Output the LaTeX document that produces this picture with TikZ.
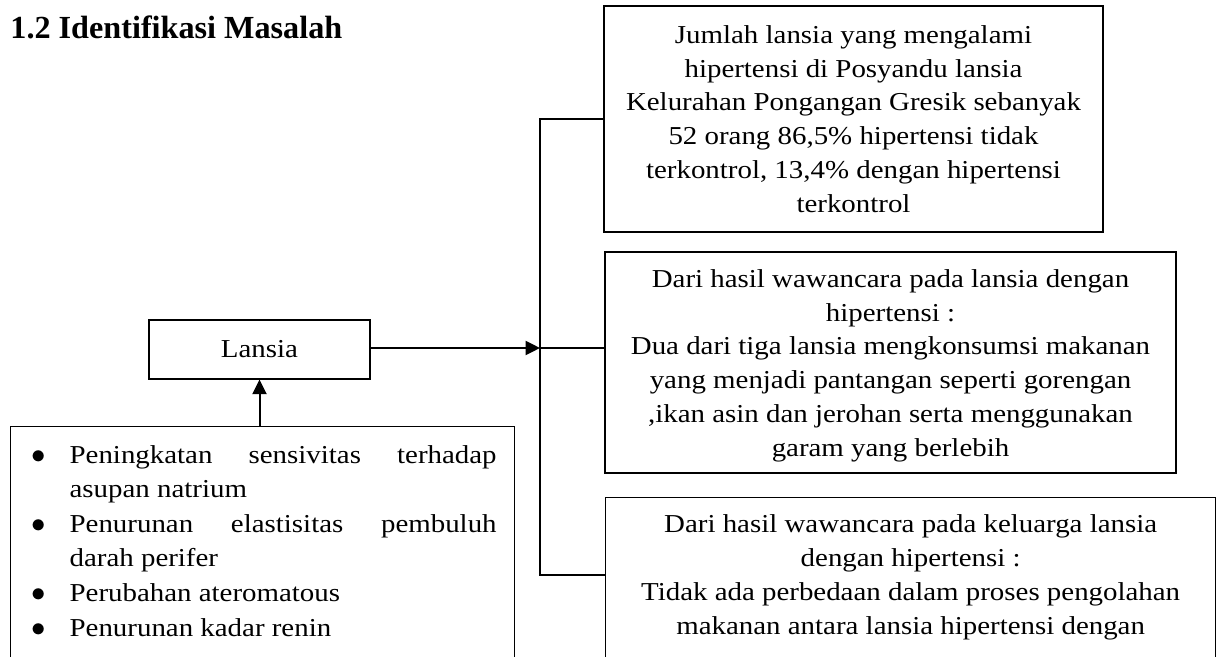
\documentclass[tikz,border=0pt]{standalone}
\usepackage{fontspec}
\setmainfont{Liberation Serif}
\newfontfamily\isi{Liberation Serif}[FakeStretch=1.12]
\usetikzlibrary{arrows.meta,positioning}
\newcommand{\butir}{\noindent\hangindent=20.5pt\hangafter=1\makebox[20.5pt][l]{\hspace{1.2pt}{\fontsize{15.5}{15.5}\selectfont$\bullet$}}}

\begin{document}
\begin{tikzpicture}[x=0.5pt, y=-0.5pt,
    kotak/.style={draw, line width=0.65pt, align=center, inner sep=0pt, font={\isi\fontsize{12.9}{16.9}\selectfont}},
    garis/.style={line width=0.65pt},
    panah/.style={line width=1pt, -{Triangle[length=7.2pt, width=7pt]}}]
    \useasboundingbox (0,0) rectangle (1230,657);
    \clip (0,0) rectangle (1230,657);

    % Judul
    \node[anchor=base west, inner sep=0pt, font={\fontsize{16.1}{19}\selectfont\bfseries}] (judul) at (10,38.5) {1.2 Identifikasi Masalah};

    % Lansia dan faktor penyebab
    \node[kotak, minimum width=110.5pt, minimum height=29.5pt] (lansia) at (259.5,349.5) {Lansia};
    \node[kotak, anchor=north west, align=justify, text width=234pt, inner xsep=9pt, inner ysep=9.7pt,
        font={\isi\fontsize{12.9}{16.9}\selectfont\hyphenpenalty=10000 \parskip=0.6pt}] (faktor) at (10,426) {\butir Peningkatan sensivitas terhadap\linebreak asupan natrium\par
        \butir Penurunan elastisitas pembuluh\linebreak darah perifer\par
        \butir Perubahan ateromatous\par
        \butir Penurunan kadar renin\rule[-30pt]{0pt}{30pt}};

    % Kotak masalah
    \node[kotak, minimum width=249.5pt, minimum height=113pt] (jumlah) at (853.5,119) {Jumlah lansia yang mengalami\\hipertensi di Posyandu lansia\\Kelurahan Pongangan Gresik sebanyak\\52 orang 86,5\% hipertensi tidak\\terkontrol, 13,4\% dengan hipertensi\\terkontrol};
    \node[kotak, minimum width=285.5pt, minimum height=110.5pt] (wawancara) at (890.5,362.5) {\rule{0pt}{12pt}Dari hasil wawancara pada lansia dengan\\hipertensi :\\Dua dari tiga lansia mengkonsumsi makanan\\yang menjadi pantangan seperti gorengan\\,ikan asin dan jerohan serta menggunakan\\garam yang berlebih};
    \node[kotak, anchor=north west, minimum width=305pt, inner ysep=8.7pt] (keluarga) at (605,497) {Dari hasil wawancara pada keluarga lansia\\dengan hipertensi :\\Tidak ada perbedaan dalam proses pengolahan\\makanan antara lansia hipertensi dengan\rule[-30pt]{0pt}{30pt}};

    % Penghubung
    \coordinate (cabang) at (540,348);
    \coordinate (bawah) at (540,575);
    \draw[panah] (lansia.east |- cabang) -- (cabang);
    \draw[panah] (lansia.south |- faktor.north) -- (lansia.south);
    \draw[garis] (jumlah.west) -| (bawah) -- (bawah -| keluarga.west);
    \draw[garis] (cabang) -- (cabang -| wawancara.west);
\end{tikzpicture}
\end{document}
